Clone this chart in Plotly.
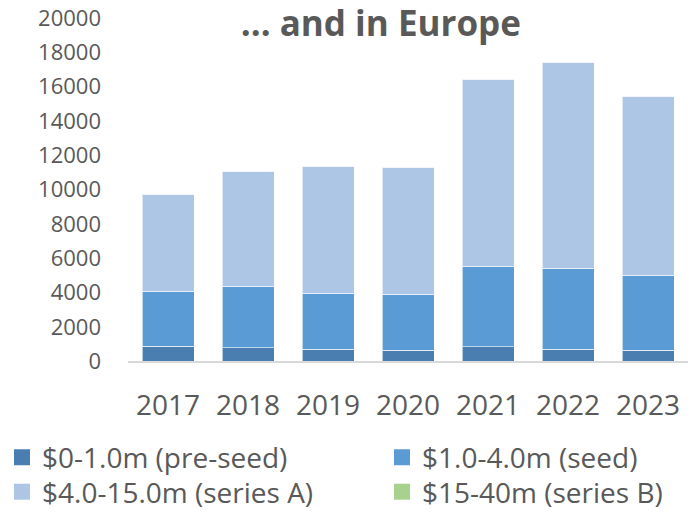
import plotly.graph_objects as go

years = ["2017", "2018", "2019", "2020", "2021", "2022", "2023"]
pre_seed = [880, 810, 710, 650, 850, 710, 650]
seed = [3210, 3570, 3270, 3270, 4680, 4710, 4360]
series_a = [5650, 6690, 7370, 7380, 10900, 11980, 10440]
series_b = [0, 0, 0, 0, 0, 0, 0]
y_ticks = [0, 2000, 4000, 6000, 8000, 10000, 12000, 14000, 16000, 18000, 20000]

names = ["$0-1.0m (pre-seed)", "$1.0-4.0m (seed)", "$4.0-15.0m (series A)", "$15-40m (series B)"]
colors = ["#4a7eb0", "#5b9bd5", "#adc6e6", "#a9d18e"]
values = [pre_seed, seed, series_a, series_b]
legend_ids = ["legend", "legend2", "legend3", "legend4"]

font_family = "Open Sans, sans-serif"
grey = "#595959"
W, H = 700, 517

fig = go.Figure()
for n, c, v in zip(names, colors, values):
    fig.add_trace(go.Bar(x=years, y=v, name=n, showlegend=False,
                         marker=dict(color=c, line=dict(color="rgba(255,255,255,0.6)", width=1))))
# legend entries with square swatches
for n, c, lg in zip(names, colors, legend_ids):
    fig.add_trace(go.Scatter(x=[None], y=[None], mode="markers", name=n, legend=lg,
                             marker=dict(symbol="square", size=16, color=c)))

legend_common = dict(orientation="v", yanchor="middle", xanchor="left", traceorder="normal",
                     font=dict(family=font_family, size=28, color=grey),
                     bgcolor="rgba(0,0,0,0)", borderwidth=0, tracegroupgap=0)
col_x = [2, 382]
row_y = [462, 497]

fig.update_layout(
    barmode="stack",
    bargap=0.35,
    width=W, height=H,
    margin=dict(l=0, r=0, t=0, b=0, pad=0),
    paper_bgcolor="white", plot_bgcolor="white",
    font=dict(family=font_family, size=22, color=grey),
    title=dict(text="<b>… and in Europe</b>", x=0.544, xanchor="center", y=0.955, yanchor="middle",
               font=dict(family=font_family, size=35, color=grey)),
    showlegend=True,
    legend=dict(x=col_x[0] / W, y=1 - row_y[0] / H, **legend_common),
    legend2=dict(x=col_x[1] / W, y=1 - row_y[0] / H, **legend_common),
    legend3=dict(x=col_x[0] / W, y=1 - row_y[1] / H, **legend_common),
    legend4=dict(x=col_x[1] / W, y=1 - row_y[1] / H, **legend_common),
)
fig.update_yaxes(range=[0, 20000], tickvals=y_ticks, tickformat="d", showgrid=False,
                 domain=[1 - 365 / H, 1 - 18 / H],
                 zeroline=False, showline=False, ticks="", ticklabelstandoff=26, automargin=False,
                 tickfont=dict(size=22, color=grey))
fig.update_xaxes(showline=True, linecolor="#d9d9d9", linewidth=2, ticks="", ticklabelstandoff=18,
                 domain=[128 / W, 688 / W],
                 automargin=False, tickfont=dict(size=28, color=grey))

fig.write_html("out.html", config={"displayModeBar": False},
               post_script="document.body.style.margin='0';")
